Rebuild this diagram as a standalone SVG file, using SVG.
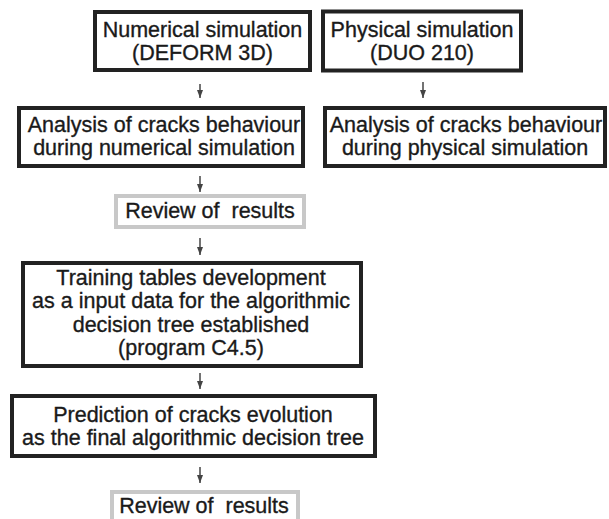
<svg xmlns="http://www.w3.org/2000/svg" width="609" height="519" viewBox="0 0 609 519">
<defs>
<marker id="ah" viewBox="0 0 8 6" refX="8" refY="3" markerWidth="8" markerHeight="6" markerUnits="userSpaceOnUse" orient="auto">
<path d="M0,0 L8,3 L0,6 Z" fill="#444"/>
</marker>
<style>
.box{fill:#fff;stroke:#222;stroke-width:4}
.rev{fill:#fff;stroke:#c8c8c8;stroke-width:4}
.t{font-family:"Liberation Sans",Arial,sans-serif;font-size:21.5px;fill:#1a1a1a;stroke:#1a1a1a;stroke-width:0.35;text-anchor:middle}
.c{stroke:#444;stroke-width:1.5;fill:none;marker-end:url(#ah)}
</style>
</defs>
<rect width="609" height="519" fill="#fff"/>
<g id="connectors">
<line class="c" x1="200" y1="84" x2="200" y2="98"/>
<line class="c" x1="423" y1="82" x2="423" y2="98"/>
<line class="c" x1="200" y1="176" x2="200" y2="192"/>
<line class="c" x1="200" y1="238" x2="200" y2="255"/>
<line class="c" x1="200" y1="373" x2="200" y2="389"/>
<line class="c" x1="200" y1="467" x2="200" y2="483"/>
</g>
<g id="n1">
<rect class="box" x="95" y="12" width="215" height="58"/>
<text class="t" x="202.5" y="37">Numerical simulation</text>
<text class="t" x="202.5" y="60">(DEFORM 3D)</text>
</g>
<g id="n2">
<rect class="box" x="323" y="11.5" width="198" height="59"/>
<text class="t" x="422" y="37">Physical simulation</text>
<text class="t" x="422" y="60">(DUO 210)</text>
</g>
<g id="n3">
<rect class="box" x="19" y="108" width="284" height="58"/>
<text class="t" x="164" y="132">Analysis of cracks behaviour</text>
<text class="t" x="164" y="155">during numerical simulation</text>
</g>
<g id="n4">
<rect class="box" x="325" y="108" width="280" height="58"/>
<text class="t" x="466" y="132">Analysis of cracks behaviour</text>
<text class="t" x="465" y="155">during physical simulation</text>
</g>
<g id="n5">
<rect class="rev" x="116" y="196" width="188" height="31"/>
<text class="t" x="210" y="218" xml:space="preserve">Review of  results</text>
</g>
<g id="n6">
<rect class="box" x="23" y="263" width="338" height="103"/>
<text class="t" x="191" y="285">Training tables development</text>
<text class="t" x="191" y="308">as a input data for the algorithmic</text>
<text class="t" x="191" y="332">decision tree established</text>
<text class="t" x="191" y="355">(program C4.5)</text>
</g>
<g id="n7">
<rect class="box" x="12" y="396" width="363" height="60"/>
<text class="t" x="193" y="422">Prediction of cracks evolution</text>
<text class="t" x="193" y="445">as the final algorithmic decision tree</text>
</g>
<g id="n8">
<rect class="rev" x="112" y="492" width="186" height="31"/>
<text class="t" x="204" y="513" xml:space="preserve">Review of  results</text>
</g>
</svg>
